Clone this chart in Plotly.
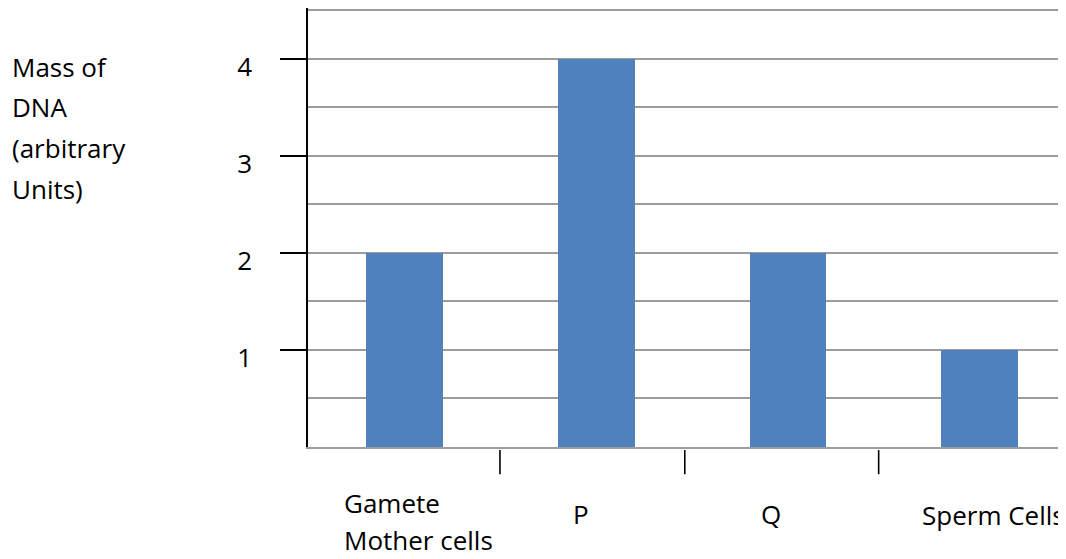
import plotly.graph_objects as go

categories = ["Gamete Mother cells", "P", "Q", "Sperm Cells"]
dna_mass = [2, 4, 2, 1]
y_tick_values = [1, 2, 3, 4]
y_tick_labels = ["1", "2", "3", "4"]
y_title_lines = ["Mass of", "DNA", "(arbitrary", "Units)"]
x_label_lines = [["Gamete", "Mother cells"], ["P"], ["Q"], ["Sperm Cells"]]

FONT = "Open Sans"
FS = 26
BLUE = "#4F81BD"
GRID = "#9c9c9c"

# the page body adds an 8px margin, so the figure is 8px smaller than the window
fig = go.Figure()
fig.add_trace(go.Bar(x=categories, y=dna_mass, width=0.40,
                     marker=dict(color=BLUE, line=dict(width=0)),
                     showlegend=False, hoverinfo="skip"))

fig.update_layout(
    width=1058, height=551,
    margin=dict(l=300, r=0, t=0, b=112),
    paper_bgcolor="white", plot_bgcolor="white",
    font=dict(family=FONT, size=FS, color="black"),
    bargap=0,
)
fig.update_xaxes(type="category", range=[-0.503, 3.45], showticklabels=False,
                 ticks="", showgrid=False, showline=True, linecolor=GRID,
                 linewidth=2, zeroline=False)
fig.update_yaxes(range=[0, 4.525], tickvals=y_tick_values, ticktext=y_tick_labels,
                 ticks="outside", ticklen=26, tickwidth=1.6, tickcolor="black",
                 ticklabelstandoff=23, ticklabelshift=8,
                 showline=True, linecolor="black", linewidth=1.6,
                 showgrid=True, gridcolor=GRID, gridwidth=1.8, zeroline=False,
                 minor=dict(dtick=0.5, tick0=0, showgrid=True, gridcolor=GRID,
                            gridwidth=1.8, ticks=""),
                 tickfont=dict(family=FONT, size=FS, color="black"))

# y-axis title lines (left side)
title_y_px = [59, 99, 140, 181]
for line, ypx in zip(y_title_lines, title_y_px):
    fig.add_annotation(text=line, xref="paper", yref="paper",
                       x=0, xshift=-298, y=1, yshift=-ypx,
                       xanchor="left", yanchor="middle", showarrow=False,
                       font=dict(family=FONT, size=FS, color="black"))

# category labels below the axis
label_specs = [("left", -62, [-56, -93]), ("center", -15, [-67]),
               ("center", -17, [-67]), ("left", -60, [-68])]
for cat, lines, (anchor, xs, yss) in zip(categories, x_label_lines, label_specs):
    for line, ys in zip(lines, yss):
        fig.add_annotation(text=line, x=cat, xref="x", yref="paper", y=0,
                           xanchor=anchor, yanchor="middle", xshift=xs, yshift=ys,
                           showarrow=False,
                           font=dict(family=FONT, size=FS, color="black"))

# separator marks between categories
for sx in [0.498, 1.462, 2.473]:
    fig.add_shape(type="line", xref="x", yref="paper", x0=sx, x1=sx,
                  y0=-0.007, y1=-0.062, line=dict(color="black", width=1.6))

fig.write_html("out.html")
